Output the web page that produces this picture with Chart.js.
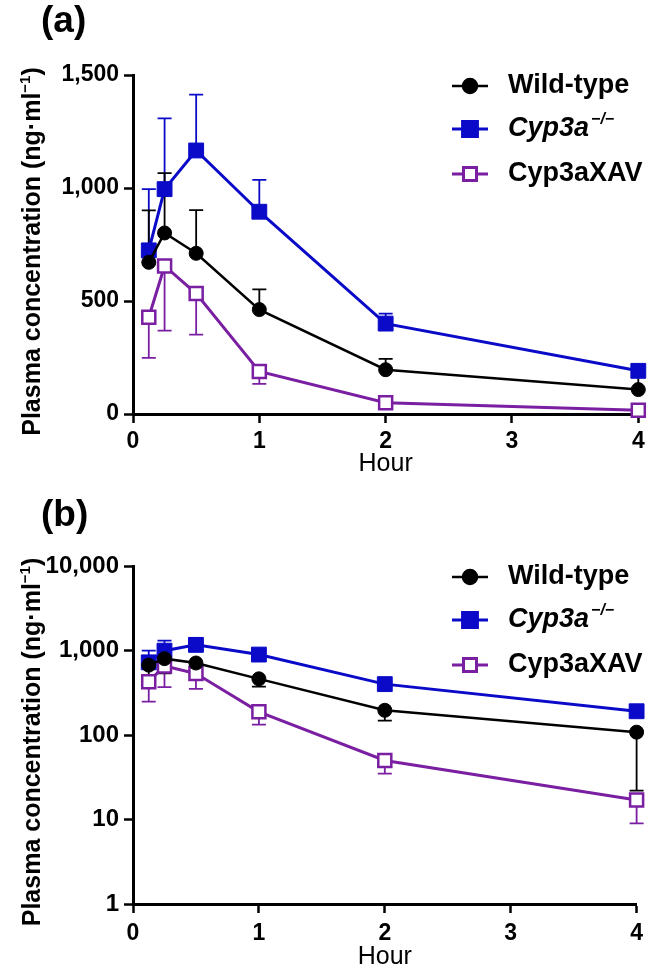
<!DOCTYPE html>
<html>
<head>
<meta charset="utf-8">
<script src="https://cdn.jsdelivr.net/npm/chart.js@4.4.0/dist/chart.umd.min.js"></script>
<style>
  body { margin: 0; background: #fff; width: 650px; height: 970px; overflow: hidden; }
  canvas { display: block; }
</style>
</head>
<body>
<canvas id="linChart" width="650" height="485"></canvas>
<canvas id="logChart" width="650" height="485"></canvas>
<script>
// Sampling times (h) and mean concentrations with SD (ng/ml)
const hours = [0.125, 0.25, 0.5, 1, 2, 4];
const wildType = [671, 801, 711, 462, 196, 108];
const wildTypeSD = [230, 265, 191, 89, 48, 86];
const cyp3aKO = [724, 995, 1166, 895, 400, 191];
const cyp3aKOSD = [271, 313, 247, 141, 44, 20];
const cyp3aXAV = [428, 655, 533, 188, 50, 17];
const cyp3aXAVSD = [180, 286, 182, 55, 15, 8];

// Tick values
const hourTicks = [0, 1, 2, 3, 4];
const linTicks = [0, 500, 1000, 1500];
const logTicks = [1, 10, 100, 1000, 10000];

const FONT = '"Liberation Sans", Arial, Helvetica, sans-serif';
const BLUE = '#0a0ac8';
const PURPLE = '#7a1fa2';

const series = [
  { name: 'Wild-type', values: wildType, sd: wildTypeSD, color: '#000000', fill: '#000000',
    style: 'circle', radius: 7, pointBorder: 1, lineWidth: 2.5 },
  { name: 'Cyp3a', sup: '\u2212/\u2212', values: cyp3aKO, sd: cyp3aKOSD, color: BLUE, fill: BLUE,
    style: 'rect', radius: 10.5, pointBorder: 1, lineWidth: 3 },
  { name: 'Cyp3aXAV', values: cyp3aXAV, sd: cyp3aXAVSD, color: PURPLE, fill: '#ffffff',
    style: 'rect', radius: 9.2, pointBorder: 2.5, lineWidth: 3 }
];

function makeDatasets(dirs) {
  return series.map((s, i) => ({
    label: s.name,
    data: hours.map((h, j) => ({ x: h, y: s.values[j] })),
    sd: s.sd,
    errDir: dirs[i],
    borderColor: s.color,
    backgroundColor: s.fill,
    borderWidth: s.lineWidth,
    pointStyle: s.style,
    pointRadius: s.radius,
    pointHoverRadius: s.radius,
    pointBorderWidth: s.pointBorder,
    pointBackgroundColor: s.fill,
    pointBorderColor: s.color,
    tension: 0,
    clip: false
  }));
}

// Error bars drawn under the lines and markers
const errorBars = {
  id: 'errorBars',
  beforeDatasetsDraw(chart) {
    const { ctx, scales: { x, y } } = chart;
    ctx.save();
    chart.data.datasets.slice().reverse().forEach(ds => {
      ctx.strokeStyle = ds.borderColor;
      ctx.lineWidth = 1.8;
      ds.data.forEach((p, j) => {
        const px = x.getPixelForValue(p.x);
        const py = y.getPixelForValue(p.y);
        const pe = y.getPixelForValue(p.y + ds.errDir * ds.sd[j]);
        ctx.beginPath();
        ctx.moveTo(px, py);
        ctx.lineTo(px, pe);
        ctx.moveTo(px - 7, pe);
        ctx.lineTo(px + 7, pe);
        ctx.stroke();
      });
    });
    ctx.restore();
  }
};

function drawMarker(ctx, s, x, y) {
  ctx.fillStyle = s.fill;
  ctx.strokeStyle = s.color;
  Chart.helpers.drawPoint(ctx, { pointStyle: s.style, radius: s.radius, borderWidth: s.pointBorder, rotation: 0 }, x, y);
}

// Panel letter, y-axis title and legend
const decor = {
  id: 'decor',
  afterDraw(chart, args, opts) {
    const { ctx, chartArea } = chart;
    ctx.save();
    ctx.fillStyle = '#000';
    ctx.textAlign = 'left';

    ctx.font = `bold 37px ${FONT}`;
    ctx.textBaseline = 'middle';
    ctx.fillText(opts.panel, 41, opts.panelY);

    // rotated y title with superscript
    const main = 'Plasma concentration (ng\u00b7ml';
    const sup = '\u22121';
    ctx.save();
    ctx.translate(40, (chartArea.top + chartArea.bottom) / 2 + opts.titleShift);
    ctx.rotate(-Math.PI / 2);
    ctx.textBaseline = 'alphabetic';
    ctx.font = `bold 25px ${FONT}`;
    const w1 = ctx.measureText(main).width;
    const w3 = ctx.measureText(')').width;
    ctx.font = `bold 15px ${FONT}`;
    const w2 = ctx.measureText(sup).width;
    let tx = -(w1 + w2 + w3) / 2;
    ctx.font = `bold 25px ${FONT}`;
    ctx.fillText(main, tx, 0);
    tx += w1;
    ctx.font = `bold 15px ${FONT}`;
    ctx.fillText(sup, tx, -10);
    tx += w2;
    ctx.font = `bold 25px ${FONT}`;
    ctx.fillText(')', tx, 0);
    ctx.restore();

    // legend
    const rows = [11, 54, 99];
    series.forEach((s, i) => {
      const y = chartArea.top + rows[i];
      ctx.strokeStyle = s.color;
      ctx.lineWidth = s.lineWidth;
      ctx.beginPath();
      ctx.moveTo(452, y);
      ctx.lineTo(488, y);
      ctx.stroke();
      drawMarker(ctx, s, 470, y);
      ctx.fillStyle = '#000';
      ctx.textBaseline = 'middle';
      if (s.sup) {
        ctx.font = `italic bold 27px ${FONT}`;
        ctx.fillText(s.name, 508, y);
        const w = ctx.measureText(s.name).width;
        ctx.font = `italic bold 16px ${FONT}`;
        ctx.fillText(s.sup, 508 + w + 2, y - 9);
      } else {
        ctx.font = `bold 27px ${FONT}`;
        ctx.fillText(s.name, 508, y);
      }
    });
    ctx.restore();
  }
};

function makeOptions(cfg) {
  return {
    responsive: false,
    animation: false,
    events: [],
    layout: { padding: { top: cfg.top, right: 9, left: 0, bottom: 0 } },
    plugins: {
      legend: { display: false },
      tooltip: { enabled: false },
      decor: { panel: cfg.panel, panelY: cfg.panelY, titleShift: 7 }
    },
    scales: {
      x: {
        type: 'linear',
        min: 0,
        max: 4,
        afterBuildTicks: s => { s.ticks = hourTicks.map(v => ({ value: v })); },
        afterFit: s => { s.height = cfg.xHeight; },
        grid: { drawOnChartArea: false, drawTicks: true, tickLength: 9, tickWidth: 2.5, tickColor: '#000' },
        border: { display: true, color: '#000', width: 3 },
        ticks: { color: '#000', padding: cfg.xPad, maxRotation: 0,
                 font: { family: FONT, size: 23, weight: 'bold' } },
        title: { display: true, text: 'Hour', color: '#000',
                 font: { family: FONT, size: 25, lineHeight: 1 },
                 padding: { top: 0, bottom: cfg.titlePad } }
      },
      y: {
        type: cfg.yType,
        min: cfg.yMin,
        max: cfg.yMax,
        afterBuildTicks: s => { s.ticks = cfg.yTicks.map(v => ({ value: v })); },
        afterFit: s => { s.width = 133; },
        grid: { drawOnChartArea: false, drawTicks: true, tickLength: 9, tickWidth: 2.5, tickColor: '#000' },
        border: { display: true, color: '#000', width: 3 },
        ticks: { color: '#000', padding: 5,
                 font: { family: FONT, size: cfg.yFont, weight: 'bold' },
                 callback: v => Number(v).toLocaleString('en-US') }
      }
    }
  };
}

new Chart(document.getElementById('linChart'), {
  type: 'line',
  data: { datasets: makeDatasets([1, 1, -1]) },
  options: makeOptions({ panel: '(a)', panelY: 22, top: 75, xHeight: 71, xPad: 5, titlePad: 8,
                         yType: 'linear', yMin: 0, yMax: 1500, yTicks: linTicks, yFont: 23 }),
  plugins: [errorBars, decor]
});

new Chart(document.getElementById('logChart'), {
  type: 'line',
  data: { datasets: makeDatasets([-1, 1, -1]) },
  options: makeOptions({ panel: '(b)', panelY: 31, top: 81, xHeight: 66, xPad: 7, titlePad: 0,
                         yType: 'logarithmic', yMin: 1, yMax: 10000, yTicks: logTicks, yFont: 24 }),
  plugins: [errorBars, decor]
});
</script>
</body>
</html>
